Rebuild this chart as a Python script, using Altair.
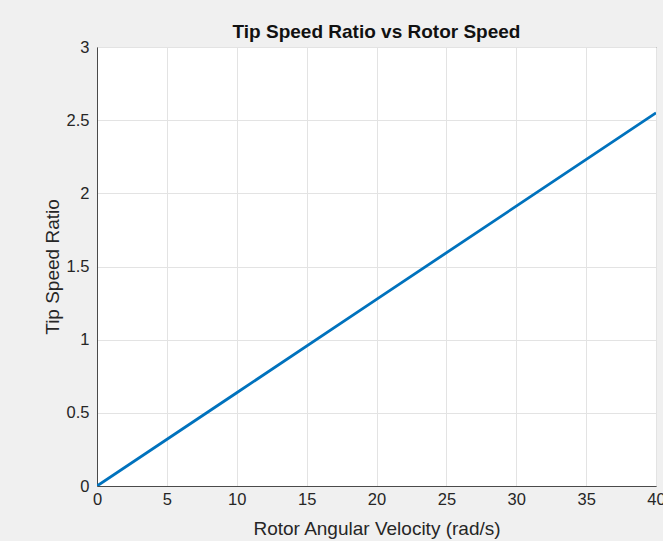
import altair as alt
import pandas as pd

# Data
omega = [0, 10, 20, 30, 40]            # rad/s
tsr = [0.0, 0.6375, 1.275, 1.9125, 2.55]

x_ticks = [0, 5, 10, 15, 20, 25, 30, 35, 40]
y_ticks = [0, 0.5, 1, 1.5, 2, 2.5, 3]

df = pd.DataFrame({"omega": omega, "tsr": tsr})

FONT = "Liberation Sans"
TXT = "#262626"

chart = (
    alt.Chart(df)
    .mark_line(color="#0072BD", strokeWidth=2.8, clip=True)
    .encode(
        x=alt.X(
            "omega:Q",
            scale=alt.Scale(domain=[0, 40], nice=False, zero=False),
            axis=alt.Axis(
                title="Rotor Angular Velocity (rad/s)",
                values=x_ticks,
                format="~g",
                ticks=False,
                labelPadding=5,
                titlePadding=12,
                labelFlush=False,
            ),
        ),
        y=alt.Y(
            "tsr:Q",
            scale=alt.Scale(domain=[0, 3], nice=False, zero=False),
            axis=alt.Axis(
                title="Tip Speed Ratio",
                values=y_ticks,
                format="~g",
                ticks=False,
                labelPadding=8,
                titlePadding=4,
                labelFlush=False,
            ),
        ),
    )
    .properties(
        width=559,
        height=439,
        title=alt.TitleParams(
            "Tip Speed Ratio vs Rotor Speed",
            font=FONT,
            fontSize=19,
            fontWeight="bold",
            color="#111111",
            anchor="middle",
            offset=-3,
        ),
        autosize=alt.AutoSizeParams(type="none"),
        padding={"left": 97, "top": 47, "right": 7, "bottom": 55},
        background="#f0f0f0",
    )
    .configure_view(fill="white", stroke="#4a4a4a", strokeWidth=1)
    .configure_axis(
        labelFont=FONT,
        titleFont=FONT,
        labelFontSize=16.5,
        titleFontSize=19,
        titleFontWeight="normal",
        labelColor=TXT,
        titleColor=TXT,
        domainColor="#4a4a4a",
        gridColor="#e3e3e3",
        grid=True,
    )
)

chart.save("out.html", embed_options={"renderer": "svg", "actions": False})
